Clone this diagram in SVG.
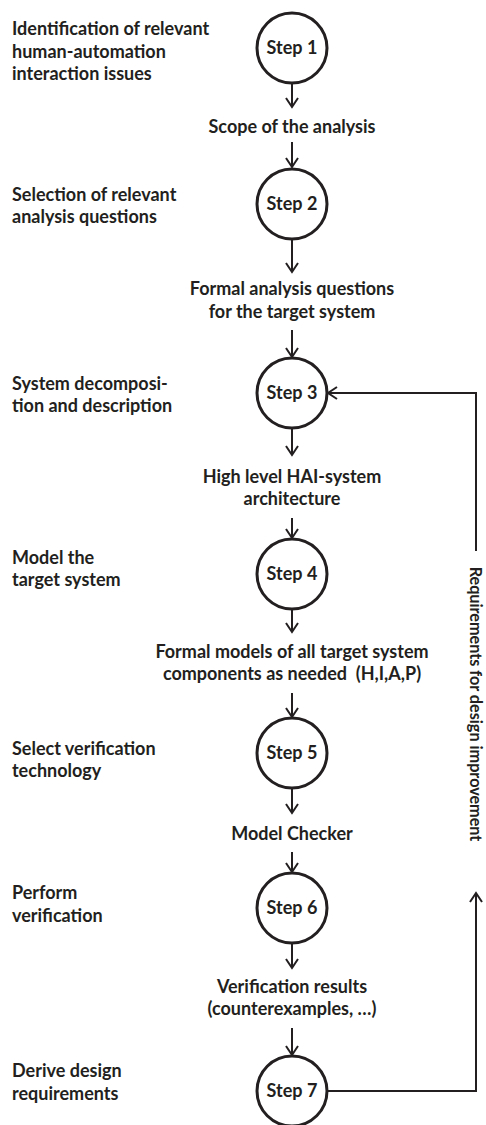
<svg xmlns="http://www.w3.org/2000/svg" width="486" height="1125" viewBox="0 0 486 1125">
  <style>
    text { font-family: "Lato", "Liberation Sans", sans-serif; font-weight: bold; font-size: 18px; fill: #231f20; }
    .mid { text-anchor: middle; }
    .side { font-size: 16.2px; }
    .step { fill: #ffffff; stroke: #231f20; stroke-width: 3; }
    .conn { fill: none; stroke: #231f20; stroke-width: 2; }
  </style>
  <defs>
    <marker id="arrow" viewBox="0 0 14 14" refX="12" refY="7" markerWidth="14" markerHeight="14" markerUnits="userSpaceOnUse" orient="auto">
      <path d="M3,1 L12,7 L3,13" fill="none" stroke="#231f20" stroke-width="2"/>
    </marker>
  </defs>

  <rect width="486" height="1125" fill="#ffffff"/>

  <!-- connectors -->
  <g id="connectors">
    <line class="conn" x1="292" y1="84" x2="292" y2="107" marker-end="url(#arrow)"/>
    <line class="conn" x1="292" y1="142" x2="292" y2="167" marker-end="url(#arrow)"/>
    <line class="conn" x1="292" y1="240" x2="292" y2="272" marker-end="url(#arrow)"/>
    <line class="conn" x1="292" y1="330" x2="292" y2="357" marker-end="url(#arrow)"/>
    <line class="conn" x1="292" y1="429" x2="292" y2="455" marker-end="url(#arrow)"/>
    <line class="conn" x1="292" y1="518" x2="292" y2="538" marker-end="url(#arrow)"/>
    <line class="conn" x1="292" y1="610" x2="292" y2="632" marker-end="url(#arrow)"/>
    <line class="conn" x1="292" y1="693" x2="292" y2="717" marker-end="url(#arrow)"/>
    <line class="conn" x1="292" y1="789" x2="292" y2="813" marker-end="url(#arrow)"/>
    <line class="conn" x1="292" y1="852" x2="292" y2="872" marker-end="url(#arrow)"/>
    <line class="conn" x1="292" y1="944" x2="292" y2="968" marker-end="url(#arrow)"/>
    <line class="conn" x1="292" y1="1028" x2="292" y2="1055" marker-end="url(#arrow)"/>
    <!-- feedback loop from step 7 back to step 3 -->
    <path class="conn" d="M328,1091 H476 V893" marker-end="url(#arrow)"/>
    <path class="conn" d="M476,551 V393 H328" marker-end="url(#arrow)"/>
    <text transform="translate(470,704) rotate(90)" class="mid side">Requirements for design improvement</text>
  </g>

  <!-- intermediate results -->
  <g id="result1"><text class="mid" x="292" y="133">Scope of the analysis</text></g>
  <g id="result2">
    <text class="mid" x="292" y="295">Formal analysis questions</text>
    <text class="mid" x="292" y="318">for the target system</text>
  </g>
  <g id="result3">
    <text class="mid" x="292" y="483">High level HAI-system</text>
    <text class="mid" x="292" y="505">architecture</text>
  </g>
  <g id="result4">
    <text class="mid" x="292" y="658">Formal models of all target system</text>
    <text class="mid" x="292" y="680" xml:space="preserve">components as needed  (H,I,A,P)</text>
  </g>
  <g id="result5"><text class="mid" x="292" y="840">Model Checker</text></g>
  <g id="result6">
    <text class="mid" x="292" y="993">Verification results</text>
    <text class="mid" x="292" y="1015">(counterexamples, …)</text>
  </g>

  <!-- steps -->
  <g id="step1">
    <circle class="step" cx="292" cy="48" r="35"/>
    <text class="mid" x="292" y="54">Step 1</text>
    <text x="12" y="35">Identification of relevant</text>
    <text x="12" y="58">human-automation</text>
    <text x="12" y="80">interaction issues</text>
  </g>
  <g id="step2">
    <circle class="step" cx="292" cy="204" r="35"/>
    <text class="mid" x="292" y="210">Step 2</text>
    <text x="12" y="201">Selection of relevant</text>
    <text x="12" y="223">analysis questions</text>
  </g>
  <g id="step3">
    <circle class="step" cx="292" cy="393" r="35"/>
    <text class="mid" x="292" y="399">Step 3</text>
    <text x="12" y="390">System decomposi-</text>
    <text x="12" y="412">tion and description</text>
  </g>
  <g id="step4">
    <circle class="step" cx="292" cy="574" r="35"/>
    <text class="mid" x="292" y="580">Step 4</text>
    <text x="12" y="564">Model the</text>
    <text x="12" y="586">target system</text>
  </g>
  <g id="step5">
    <circle class="step" cx="292" cy="753" r="35"/>
    <text class="mid" x="292" y="759">Step 5</text>
    <text x="12" y="755">Select verification</text>
    <text x="12" y="777">technology</text>
  </g>
  <g id="step6">
    <circle class="step" cx="292" cy="908" r="35"/>
    <text class="mid" x="292" y="914">Step 6</text>
    <text x="12" y="899">Perform</text>
    <text x="12" y="922">verification</text>
  </g>
  <g id="step7">
    <circle class="step" cx="292" cy="1091" r="35"/>
    <text class="mid" x="292" y="1097">Step 7</text>
    <text x="12" y="1077">Derive design</text>
    <text x="12" y="1100">requirements</text>
  </g>
</svg>
